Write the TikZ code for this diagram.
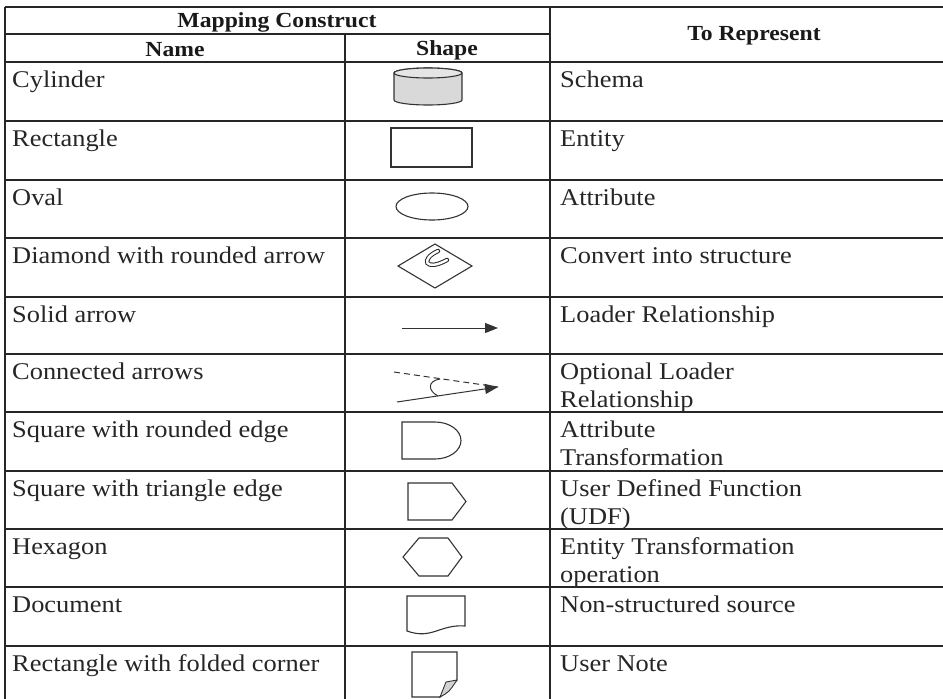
\documentclass[tikz,border=0pt]{standalone}
\usepackage{fontspec}
\setmainfont{Liberation Serif}[FakeStretch=1.1]
\usetikzlibrary{arrows.meta}

\tikzset{
	rule/.style={line width=1.4pt, draw=black!85},
	cell/.style={anchor=north west, inner sep=0pt, align=left, text=black!85, font=\fontsize{24}{28}\selectfont},
	head/.style={inner sep=0pt, text=black!90, font=\fontsize{21.5}{24}\selectfont\bfseries},
	glyph/.style={line width=1.1pt, draw=black!80, line join=miter},
	tip/.style={-{Triangle[length=13pt,width=10pt]}},
}

\begin{document}
\begin{tikzpicture}[x=1pt, y=-1pt]
	\useasboundingbox (0,0) rectangle (943,699);

	\draw[rule] (5,7) -- (960,7);
	\draw[rule] (5,7) -- (5,704);
	\draw[rule] (5,34) -- (550,34);
	\draw[rule] (345,34) -- (345,704);
	\draw[rule] (550,7) -- (550,704);
	\foreach \y in {62,121,180,238,297,354,412,471,529,587,646}
		\draw[rule] (5,\y) -- (960,\y);

	\node[head] (mapping) at (277,22) {Mapping Construct};
	\node[head] (name) at (175,50) {Name};
	\node[head] (shape) at (447,50) {Shape};
	\node[head] (represent) at (754,36) {To Represent};

	\foreach \rowtop/\construct/\target [count=\i] in {
			62/Cylinder/Schema,
			121/Rectangle/Entity,
			180/Oval/Attribute,
			238/Diamond with rounded arrow/Convert into structure,
			297/Solid arrow/Loader Relationship,
			354/Connected arrows/{Optional Loader\\Relationship},
			412/Square with rounded edge/{Attribute\\Transformation},
			471/Square with triangle edge/{User Defined Function\\(UDF)},
			529/Hexagon/{Entity Transformation\\operation},
			587/Document/Non-structured source,
			646/Rectangle with folded corner/User Note}
		{
			\node[cell] (construct\i) at (12,\rowtop+5.5) {\strut\construct};
			\node[cell] (target\i) at (560,\rowtop+5.5) {\strut\target};
		}

	\draw[glyph, fill=gray!30] (394,73) -- (394,100) arc[start angle=180, end angle=360, x radius=34pt, y radius=5pt] -- (462,73) arc[start angle=0, end angle=180, x radius=34pt, y radius=5pt] -- cycle;
	\draw[glyph, fill=gray!20] (428,73) ellipse[x radius=34pt, y radius=5pt];

	\draw[glyph] (391,128) rectangle (472,167);

	\draw[glyph] (432,206.5) ellipse[x radius=36pt, y radius=13.5pt];

	\draw[glyph] (398,266) -- (435,244) -- (472,266) -- (435,288) -- cycle;
	\draw[line width=1pt, draw=black!85, double=white, double distance=2.4pt, line cap=round] (438,251) .. controls (420,259) and (425,272) .. (447,260);

	\coordinate (solid from) at (402,328);
	\coordinate (solid to) at (498,328);
	\draw[glyph, line width=1pt, tip] (solid from) -- (solid to);

	\coordinate (dash from) at (394,372);
	\coordinate (link from) at (397,402);
	\coordinate (link to) at (498,387);
	\draw[glyph, line width=1pt, dash pattern=on 6pt off 4pt] (dash from) -- (link to);
	\draw[glyph, line width=1pt, tip] (link from) -- (link to);
	\draw[glyph, line width=1pt] (440,379) .. controls (427,381) and (428,391) .. (438,396);

	\draw[glyph] (402,422) -- (435,422) arc[start angle=90, end angle=-90, x radius=26pt, y radius=18.5pt] -- (402,459) -- cycle;

	\draw[glyph] (408,483) -- (452,483) -- (466,501.5) -- (452,520) -- (408,520) -- cycle;

	\draw[glyph] (403,557) -- (419,538) -- (448,538) -- (462,557) -- (448,576) -- (419,576) -- cycle;

	\draw[glyph] (407,596) -- (465,596) -- (465,626) .. controls (440,624) and (432,640) .. (407,631) -- cycle;

	\draw[glyph] (412,652) -- (457,652) -- (457,680) -- (440,697) -- (412,697) -- cycle;
	\draw[glyph, line width=0.9pt, fill=gray!35] (457,680) -- (446,682) -- (440,697) .. controls (449,692) .. (457,680);
\end{tikzpicture}
\end{document}
